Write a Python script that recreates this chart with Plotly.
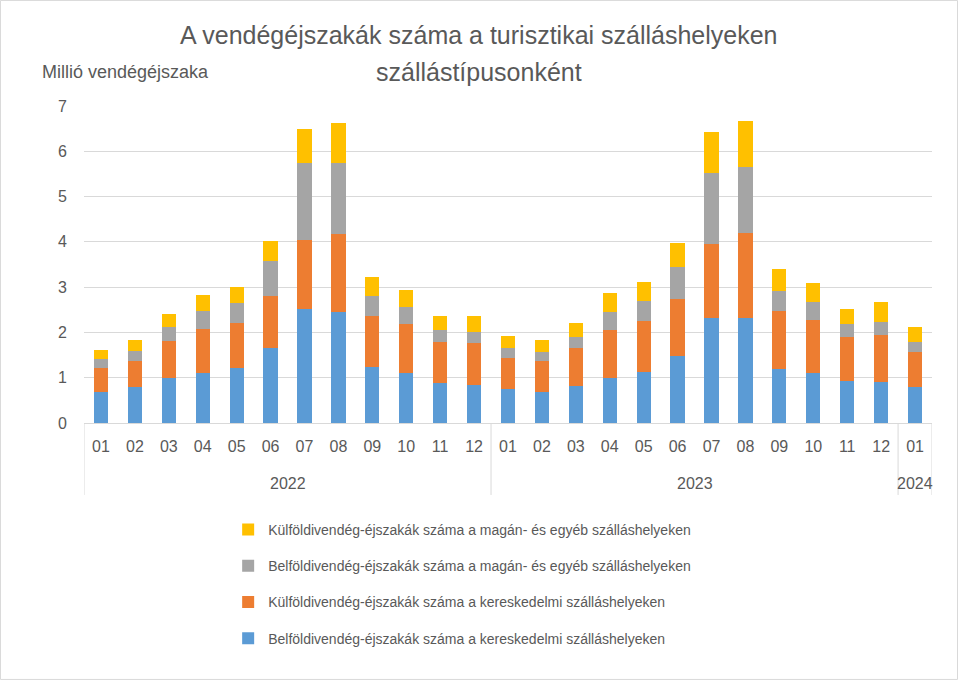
import plotly.graph_objects as go

# Data (million guest nights)
years = ["2022"] * 12 + ["2023"] * 12 + ["2024"]
months = ["01", "02", "03", "04", "05", "06", "07", "08", "09", "10", "11", "12"] * 2 + ["01"]

belfoldi_keresk = [0.69, 0.79, 1.00, 1.10, 1.22, 1.66, 2.51, 2.46, 1.24, 1.10, 0.88, 0.84,
                   0.74, 0.69, 0.82, 1.00, 1.13, 1.49, 2.32, 2.32, 1.19, 1.10, 0.93, 0.91,
                   0.79]
kulfoldi_keresk = [0.53, 0.58, 0.81, 0.97, 0.99, 1.15, 1.53, 1.72, 1.13, 1.09, 0.91, 0.92,
                   0.70, 0.68, 0.84, 1.06, 1.12, 1.25, 1.64, 1.87, 1.28, 1.18, 0.97, 1.03,
                   0.78]
belfoldi_magan = [0.19, 0.22, 0.31, 0.40, 0.44, 0.76, 1.70, 1.56, 0.44, 0.37, 0.27, 0.25,
                  0.22, 0.20, 0.24, 0.40, 0.44, 0.70, 1.55, 1.46, 0.44, 0.40, 0.29, 0.30,
                  0.22]
kulfoldi_magan = [0.20, 0.24, 0.28, 0.35, 0.35, 0.44, 0.75, 0.88, 0.41, 0.37, 0.30, 0.35,
                  0.27, 0.27, 0.31, 0.41, 0.42, 0.53, 0.91, 1.01, 0.49, 0.41, 0.32, 0.44,
                  0.33]

series = [
    ("Belföldivendég-éjszakák száma a kereskedelmi szálláshelyeken", belfoldi_keresk, "#5B9BD5"),
    ("Külföldivendég-éjszakák száma a kereskedelmi szálláshelyeken", kulfoldi_keresk, "#ED7D31"),
    ("Belföldivendég-éjszakák száma a magán- és egyéb szálláshelyeken", belfoldi_magan, "#A5A5A5"),
    ("Külföldivendég-éjszakák száma a magán- és egyéb szálláshelyeken", kulfoldi_magan, "#FFC000"),
]

FONT = "Liberation Sans"
TXT = "#595959"
GRID = "#d9d9d9"

# one unique category per month, labelled with the month only
cats = [f"{y}-{m}" for y, m in zip(years, months)]

fig = go.Figure()
for i, (name, vals, color) in enumerate(series):
    fig.add_trace(go.Bar(x=cats, y=vals, name=name,
                         marker_color=color, marker_line_width=0,
                         legendgroup=str(i), legendrank=len(series) - i))

# year labels under the months and divider lines between the years
annotations = []
shapes = []
year_list = list(dict.fromkeys(years))
start = 0
for yr in year_list:
    n = years.count(yr)
    annotations.append(dict(text=yr, xref="x", yref="paper", x=start + (n - 1) / 2, y=0,
                            yanchor="middle", yshift=-60, showarrow=False,
                            font=dict(size=16, color=TXT, family=FONT)))
    shapes.append(dict(type="line", xref="x", yref="paper", x0=start - 0.5, x1=start - 0.5,
                       y0=0, y1=-0.227, line=dict(color=GRID, width=1)))
    start += n
shapes.append(dict(type="line", xref="x", yref="paper", x0=start - 0.5, x1=start - 0.5,
                   y0=0, y1=-0.227, line=dict(color=GRID, width=1)))

# chart title (two lines) and unit label
annotations += [
    dict(text="A vendégéjszakák száma a turisztikai szálláshelyeken", xref="paper", yref="paper",
         x=0.466, y=1, yanchor="middle", yshift=71, showarrow=False,
         font=dict(size=25, color=TXT, family=FONT)),
    dict(text="szállástípusonként", xref="paper", yref="paper",
         x=0.466, y=1, yanchor="middle", yshift=34, showarrow=False,
         font=dict(size=25, color=TXT, family=FONT)),
    dict(text="Millió vendégéjszaka", xref="paper", yref="paper",
         x=-0.052, xanchor="left", y=1, yanchor="middle", yshift=34,
         showarrow=False, font=dict(size=18, color=TXT, family=FONT)),
]

# outer chart border
shapes.append(dict(type="rect", xref="paper", yref="paper",
                   x0=-0.0985, x1=1.0301, y0=-0.809, y1=1.333,
                   line=dict(color=GRID, width=1), fillcolor="rgba(0,0,0,0)", layer="below"))

fig.update_layout(
    barmode="stack",
    bargap=0.58,
    width=958, height=680,
    margin=dict(l=84, r=26, t=106, b=257),
    paper_bgcolor="white", plot_bgcolor="white",
    font=dict(family=FONT, color=TXT, size=16),
    legend=dict(orientation="v", traceorder="grouped", tracegroupgap=15,
                x=0.17, xanchor="left", y=-0.287, yanchor="top",
                font=dict(size=14, color=TXT, family=FONT)),
    annotations=annotations,
    shapes=shapes,
)

fig.update_yaxes(range=[0, 7], dtick=1, showgrid=True, gridcolor=GRID, gridwidth=1,
                 zeroline=False, showline=False, ticks="", ticklabelstandoff=16,
                 automargin=False, tickfont=dict(size=16, color=TXT))
fig.update_xaxes(type="category", tickmode="array", tickvals=cats, ticktext=months,
                 range=[-0.5, len(cats) - 0.5],
                 showline=True, linecolor=GRID, linewidth=1, ticks="", ticklabelstandoff=9,
                 automargin=False, tickfont=dict(size=16, color=TXT))

fig.write_html("out.html", config={"displayModeBar": False},
               post_script="document.body.style.margin='0';")
